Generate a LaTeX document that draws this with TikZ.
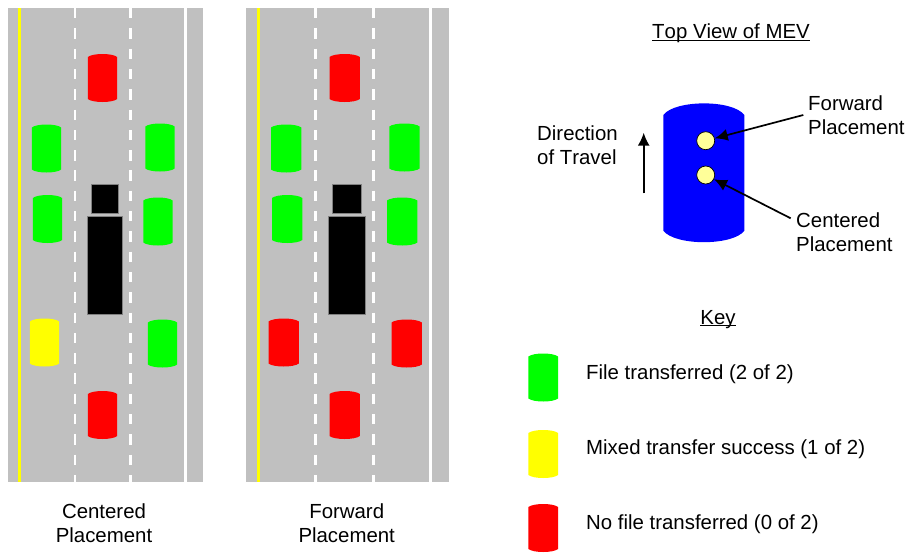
\documentclass[tikz,border=0pt]{standalone}
\usepackage{fontspec}
\setmainfont[Kerning=Off]{Liberation Sans}
\usepackage{xcolor}
\usetikzlibrary{arrows.meta}
\definecolor{roadgray}{HTML}{C0C0C0}
\definecolor{dotyellow}{HTML}{FFFF99}
\definecolor{caryellow}{HTML}{FFFF00}
\tikzset{
    lbl/.style={inner sep=0pt, font=\fontsize{20.4}{24}\selectfont},
    lane/.style={white, line width=2.6pt, dash pattern=on 10.4pt off 9.9pt},
    truck/.style={fill=black, draw=gray, line width=0.5pt},
    mount/.style={circle, draw=black, fill=dotyellow, inner sep=0pt, minimum size=18pt, line width=0.7pt},
    pointer/.style={-{Latex[length=13pt,width=12pt]}, line width=1.7pt}
}
\newcommand{\drawcar}[4]{% half width, x, y, colour
    \fill [#4, shift={(#2,#3)}] (-#1,-21) .. controls (-#1+5,-25) and (#1-5,-25) .. (#1,-21)
        -- (#1,21) .. controls (#1-5,25) and (-#1+5,25) .. (-#1,21) -- cycle;
}

\begin{document}
\begin{tikzpicture}[x=1pt, y=-1pt]
    \useasboundingbox (0,0) rectangle (907,552);
    % Roads
    \foreach \left/\right/\edgeL/\laneA/\laneB/\edgeR in {8/203/19.7/75/130.2/185.7, 246/449/258.3/315.7/373.3/430.7} {
        \fill [roadgray] (\left,8) rectangle (\right,482);
        \draw [caryellow, line width=2.6pt] (\edgeL,8) -- (\edgeL,482);
        \draw [lane] (\laneA,8) -- (\laneA,482);
        \draw [lane] (\laneB,8) -- (\laneB,482);
        \draw [white, line width=2.6pt] (\edgeR,8) -- (\edgeR,482);
    }
    % Cars, centered placement
    \foreach \x/\y/\col in {102.5/78/red, 46.5/148.5/green, 160/147.5/green, 47.5/219/green, 158/221.5/green,
        44.5/342.5/caryellow, 162.5/343.5/green, 102.5/415/red} {
        \drawcar{14.7}{\x}{\y}{\col}
    }
    % Cars, forward placement
    \foreach \x/\y/\col in {344.7/78/red, 286.2/148.5/green, 404.5/147.5/green, 287.2/219/green, 402.2/221.5/green,
        283.7/342.5/red, 406.7/343.5/red, 344.7/415/red} {
        \drawcar{15.2}{\x}{\y}{\col}
    }
    % Trucks
    \draw [truck] (91.3,184.3) rectangle (118.7,213);
    \draw [truck] (87.3,216.7) rectangle (122.7,314);
    \draw [truck] (332.7,184.3) rectangle (361.3,213);
    \draw [truck] (328.3,216.7) rectangle (365.7,314);
    % Captions
    \node [lbl, align=center, anchor=base] (capcenter) at (104,542.3) {Centered\\Placement};
    \node [lbl, align=center, anchor=base] (capforward) at (346.7,542.3) {Forward\\Placement};
    % Top view
    \node [lbl, anchor=base] (toptitle) at (731,38.3) {\underline{\smash{Top View of MEV}}};
    \fill [blue] (663.3,115) .. controls (675,99.5) and (733,99.5) .. (744.3,115)
        -- (744.3,230.7) .. controls (733,246) and (675,246) .. (663.3,230.7) -- cycle;
    \node [mount] (fwddot) at (705.7,140.7) {};
    \node [mount] (cendot) at (705.7,175) {};
    \node [lbl, align=left, anchor=base west] (dirlabel) at (537,164.5) {Direction\\of Travel};
    \node [lbl, align=left, anchor=base west] (fwdlabel) at (808,134) {Forward\\Placement};
    \node [lbl, align=left, anchor=base west] (cenlabel) at (796,251.5) {Centered\\Placement};
    \coordinate (dirtail) at (643.7,193.3);
    \coordinate (dirhead) at (643.7,132.7);
    \coordinate (fwdtail) at (803.3,115);
    \coordinate (centail) at (790.7,218.3);
    \draw [pointer] (dirtail) -- (dirhead);
    \draw [pointer] (fwdtail) -- (fwddot);
    \draw [pointer] (centail) -- (cendot);
    % Key
    \node [lbl, anchor=base] (keytitle) at (718,324) {\underline{\smash{Key}}};
    \drawcar{14.8}{543.2}{377.5}{green}
    \drawcar{14.8}{543.2}{454}{caryellow}
    \drawcar{14.8}{543.2}{528}{red}
    \node [lbl, anchor=base west] (keygreen) at (586,379) {File transferred (2 of 2)};
    \node [lbl, anchor=base west] (keyyellow) at (586,454) {Mixed transfer success (1 of 2)};
    \node [lbl, anchor=base west] (keyred) at (586,529) {No file transferred (0 of 2)};
\end{tikzpicture}
\end{document}
